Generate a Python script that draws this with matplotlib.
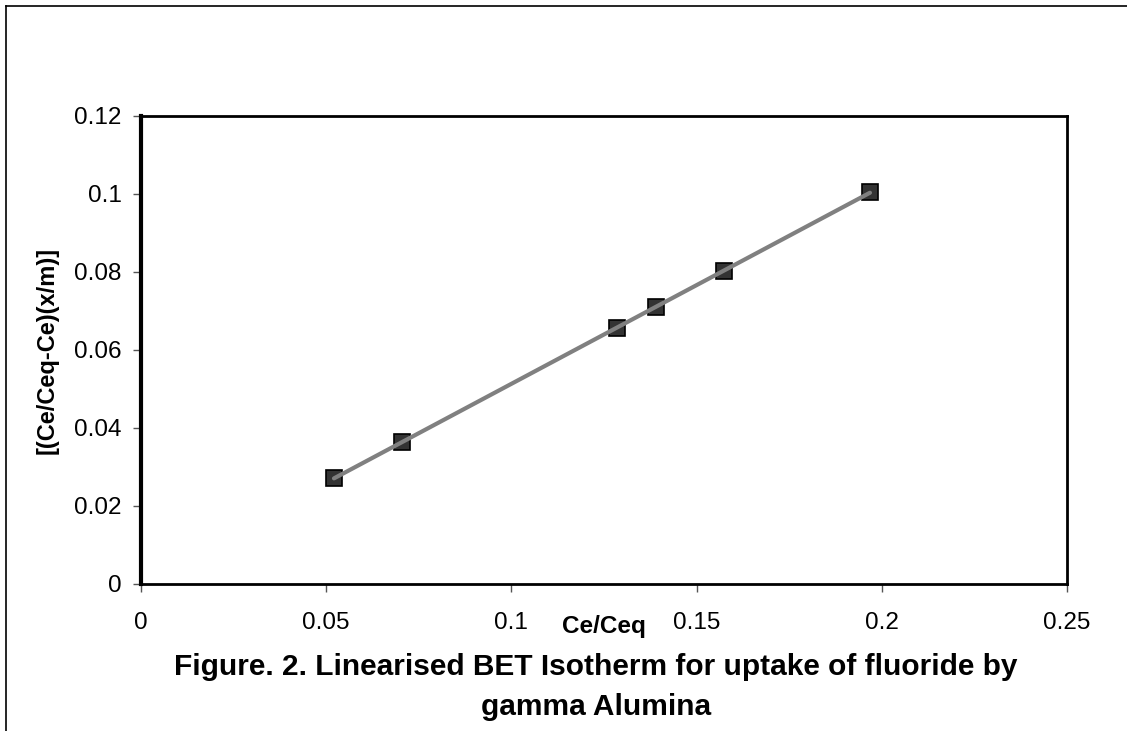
import matplotlib
matplotlib.use('Agg')
import matplotlib.pyplot as plt
from matplotlib.lines import Line2D
import numpy as np

plt.rcParams['font.family'] = ['Liberation Sans', 'DejaVu Sans']

ce_ceq = [0.0521, 0.0705, 0.1285, 0.1390, 0.1574, 0.1968]
bet_y = [0.0272, 0.0364, 0.0656, 0.0710, 0.0803, 0.1005]

xticks = [0, 0.05, 0.1, 0.15, 0.2, 0.25]
xtick_labels = ['0', '0.05', '0.1', '0.15', '0.2', '0.25']
yticks = [0, 0.02, 0.04, 0.06, 0.08, 0.1, 0.12]
ytick_labels = ['0', '0.02', '0.04', '0.06', '0.08', '0.1', '0.12']

W, H = 1127, 731
fig = plt.figure(figsize=(W / 100, H / 100), dpi=100)
ax = fig.add_axes([141 / W, 1 - 584 / H, (1067 - 141) / W, (584 - 116) / H])

# data series (thin navy line under the trendline)
ax.plot(ce_ceq, bet_y, color='#000080', lw=1, marker='s', ms=11,
        mfc='#333333', mec='black', mew=1.2, zorder=3)

# linear trendline
k, b = np.polyfit(ce_ceq, bet_y, 1)
xs = np.array([min(ce_ceq), max(ce_ceq)])
ax.plot(xs, k * xs + b, color='#808080', lw=3, solid_capstyle='round', zorder=4)

ax.set_xlim(0, 0.25)
ax.set_ylim(0, 0.12)
ax.set_xticks(xticks)
ax.set_xticklabels(xtick_labels)
ax.set_yticks(yticks)
ax.set_yticklabels(ytick_labels)
ax.tick_params(direction='out', length=6, width=1, color='#555555',
               labelsize=17.5)
ax.tick_params(axis='x', pad=14)
ax.tick_params(axis='y', pad=8)
for s in ax.spines.values():
    s.set_linewidth(2)
    s.set_color('black')
ax.spines['left'].set_linewidth(3)

fig.text(604 / W, 1 - 626 / H, 'Ce/Ceq', fontsize=17.5, fontweight='bold',
         ha='center', va='center')
fig.text(47 / W, 1 - 350 / H, '[(Ce/Ceq-Ce)(x/m)]', fontsize=17,
         fontweight='bold', rotation=90, ha='center', va='center')
fig.text(596 / W, 1 - 667 / H,
         'Figure. 2. Linearised BET Isotherm for uptake of fluoride by',
         fontsize=21.5, fontweight='bold', ha='center', va='center')
fig.text(596 / W, 1 - 707 / H, 'gamma Alumina', fontsize=21.5,
         fontweight='bold', ha='center', va='center')

# outer chart frame (top and left edges visible)
fig.add_artist(Line2D([6 / W, 1], [1 - 6 / H, 1 - 6 / H], color='black', lw=1.2))
fig.add_artist(Line2D([6 / W, 6 / W], [0, 1 - 6 / H], color='black', lw=1.2))

fig.savefig('out.png', dpi=100)
